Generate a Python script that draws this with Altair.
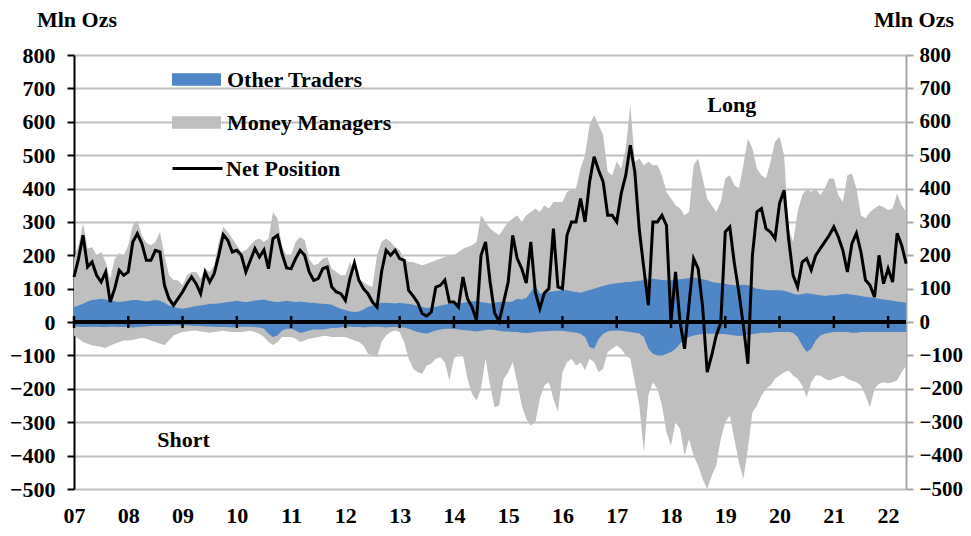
import altair as alt
import pandas as pd

FONT = "Liberation Serif"
BLUE = "#4F86C6"
GRAY = "#BFBFBF"

start_year = 2007
# monthly readings, Jan 2007 .. May 2022 (Mln Ozs)
net = (
    [135, 190, 260, 165, 180, 140, 120, 150, 60, 100, 155, 140]
    + [150, 240, 265, 235, 185, 185, 215, 210, 110, 70, 50, 70]
    + [90, 115, 135, 115, 85, 150, 120, 145, 200, 262, 245, 210]
    + [215, 200, 150, 185, 220, 195, 216, 160, 250, 260, 205, 162]
    + [160, 190, 215, 200, 150, 125, 130, 160, 165, 105, 90, 85]
    + [65, 130, 177, 125, 100, 85, 60, 45, 150, 215, 200, 215]
    + [190, 185, 95, 78, 58, 25, 18, 30, 105, 110, 126, 60]
    + [60, 45, 135, 70, 45, 5, 200, 240, 120, 27, 2, 60]
    + [120, 260, 190, 160, 117, 240, 90, 40, 87, 100, 280, 105]
    + [100, 260, 300, 300, 370, 300, 420, 495, 455, 420, 320, 320]
    + [300, 386, 440, 530, 450, 275, 160, 50, 300, 300, 320, 290]
    + [0, 150, 0, -80, 55, 190, 160, 45, -150, -100, -40, -3]
    + [270, 285, 177, 90, -10, -125, 200, 330, 340, 280, 270, 250]
    + [356, 395, 250, 140, 105, 180, 190, 156, 200, 220, 240, 260]
    + [285, 255, 215, 150, 235, 266, 210, 126, 110, 75, 200, 115]
    + [160, 120, 266, 230, 175]
)
long_all = (
    [190, 230, 296, 220, 225, 200, 210, 180, 130, 190, 206, 200]
    + [230, 290, 305, 260, 237, 230, 240, 270, 200, 140, 126, 125]
    + [110, 140, 150, 150, 130, 160, 150, 170, 240, 285, 270, 250]
    + [230, 210, 215, 230, 245, 250, 240, 250, 330, 310, 225, 200]
    + [200, 240, 255, 245, 190, 170, 175, 190, 195, 160, 150, 140]
    + [140, 180, 150, 130, 120, 110, 105, 200, 240, 250, 240, 225]
    + [215, 190, 180, 180, 175, 170, 175, 180, 185, 190, 195, 200]
    + [200, 210, 220, 225, 230, 240, 320, 300, 280, 270, 260, 280]
    + [300, 310, 320, 300, 320, 330, 340, 330, 350, 340, 360, 360]
    + [360, 390, 396, 400, 460, 500, 590, 620, 590, 560, 450, 440]
    + [480, 460, 520, 650, 480, 490, 470, 480, 470, 470, 440, 390]
    + [370, 350, 340, 320, 330, 470, 490, 430, 370, 350, 330, 360]
    + [430, 440, 410, 400, 470, 550, 520, 460, 440, 430, 480, 540]
    + [555, 500, 280, 240, 330, 380, 400, 390, 400, 380, 400, 430]
    + [430, 380, 360, 440, 445, 400, 320, 310, 330, 340, 350, 345]
    + [335, 340, 385, 350, 330]
)
long_other = (
    [45, 50, 55, 62, 66, 68, 70, 68, 66, 62, 60, 62]
    + [64, 66, 66, 64, 62, 64, 66, 64, 58, 50, 45, 42]
    + [40, 42, 45, 48, 50, 52, 55, 55, 56, 58, 60, 62]
    + [64, 62, 60, 62, 65, 66, 68, 64, 62, 60, 62, 64]
    + [62, 60, 62, 60, 58, 58, 56, 55, 54, 52, 45, 40]
    + [36, 32, 30, 32, 38, 45, 50, 55, 58, 58, 57, 56]
    + [58, 56, 55, 52, 48, 45, 42, 44, 46, 50, 52, 55]
    + [55, 56, 58, 60, 62, 63, 60, 58, 56, 58, 60, 62]
    + [60, 62, 70, 68, 72, 90, 110, 85, 88, 90, 92, 94]
    + [96, 95, 92, 90, 88, 92, 96, 100, 104, 108, 112, 115]
    + [116, 118, 120, 120, 122, 124, 126, 128, 130, 128, 126, 125]
    + [125, 126, 128, 130, 132, 134, 130, 128, 125, 120, 118, 116]
    + [115, 112, 110, 110, 112, 110, 105, 100, 98, 96, 95, 95]
    + [95, 94, 90, 85, 82, 84, 86, 85, 82, 80, 78, 80]
    + [80, 82, 84, 85, 82, 80, 78, 76, 74, 72, 70, 68]
    + [66, 64, 62, 60, 58]
)
short_other = (
    [-12, -14, -15, -15, -14, -14, -15, -15, -14, -14, -15, -15]
    + [-15, -16, -15, -14, -13, -12, -12, -12, -12, -11, -10, -10]
    + [-10, -10, -11, -12, -12, -13, -13, -14, -15, -15, -15, -16]
    + [-15, -14, -14, -14, -15, -16, -20, -35, -45, -40, -25, -20]
    + [-20, -25, -33, -30, -25, -22, -22, -22, -20, -18, -18, -16]
    + [-15, -14, -15, -15, -16, -15, -14, -14, -15, -16, -15, -15]
    + [-15, -16, -20, -25, -30, -33, -35, -30, -25, -22, -20, -20]
    + [-20, -22, -24, -25, -26, -28, -26, -24, -22, -24, -26, -28]
    + [-28, -30, -30, -32, -33, -32, -30, -28, -28, -27, -26, -26]
    + [-26, -28, -30, -32, -35, -45, -75, -80, -50, -35, -28, -26]
    + [-25, -26, -28, -30, -32, -34, -45, -80, -95, -100, -100, -95]
    + [-90, -80, -65, -50, -45, -40, -38, -36, -35, -35, -35, -36]
    + [-36, -38, -40, -42, -40, -38, -36, -34, -32, -32, -32, -30]
    + [-30, -30, -30, -32, -45, -70, -90, -80, -55, -40, -35, -32]
    + [-30, -30, -30, -30, -32, -32, -30, -30, -30, -30, -30, -30]
    + [-30, -30, -30, -30, -30]
)
short_all = (
    [-40, -50, -60, -65, -70, -72, -75, -78, -70, -65, -60, -55]
    + [-55, -54, -50, -48, -50, -55, -60, -65, -69, -55, -40, -35]
    + [-30, -28, -26, -25, -28, -30, -32, -30, -28, -26, -28, -30]
    + [-30, -30, -28, -26, -30, -35, -45, -60, -69, -60, -45, -45]
    + [-45, -50, -60, -55, -50, -48, -45, -42, -42, -45, -45, -45]
    + [-45, -50, -55, -60, -70, -95, -100, -105, -60, -40, -30, -25]
    + [-30, -60, -110, -140, -150, -155, -130, -125, -110, -105, -120, -175]
    + [-110, -95, -100, -170, -215, -235, -200, -110, -190, -255, -250, -170]
    + [-150, -120, -180, -250, -290, -310, -300, -230, -190, -180, -230, -270]
    + [-150, -120, -110, -130, -120, -144, -110, -120, -150, -140, -90, -80]
    + [-70, -80, -100, -110, -180, -250, -390, -220, -180, -200, -250, -330]
    + [-370, -300, -320, -400, -350, -400, -430, -470, -500, -460, -430, -350]
    + [-300, -280, -350, -420, -470, -380, -270, -250, -220, -200, -190, -170]
    + [-160, -150, -145, -160, -170, -190, -225, -180, -160, -160, -170, -175]
    + [-170, -165, -160, -170, -175, -180, -190, -220, -255, -200, -185, -180]
    + [-183, -180, -175, -150, -130]
)
years = list(range(2007, 2023))
y_ticks = list(range(-500, 801, 100))
notes = ["Long", "Short"]
note_t = [2019.12, 2009.02]
note_v = [650, -353]

n = len(net)
df = pd.DataFrame({
    "t": [start_year + i / 12 for i in range(n)],
    "net": net,
    "long_all": long_all,
    "long_other": long_other,
    "short_other": short_other,
    "short_all": short_all,
})
ydf = pd.DataFrame({"year": years, "zero": [0] * len(years)})
ndf = pd.DataFrame({"t": note_t, "v": note_v, "label": notes})

yscale = alt.Scale(domain=[-500, 800], nice=False, zero=False)
xscale = alt.Scale(domain=[2007, 2022.33], nice=False, zero=False)

xaxis = alt.Axis(values=years, labelExpr="substring(toString(datum.value), 2, 4)",
                 domain=False, ticks=False, grid=False, labelPadding=16,
                 labelFlush=False, labelOverlap=False, title=None)
left_axis = alt.Axis(orient="left", values=y_ticks, grid=True, gridColor="#C0C0C0",
                     gridWidth=2, domainColor="black", domainWidth=2,
                     tickColor="black", tickWidth=2, tickSize=7, labelPadding=12,
                     labelOverlap=False, title=None)
right_axis = alt.Axis(orient="right", values=y_ticks, grid=False, domainColor="#A6A6A6",
                      domainWidth=2, tickColor="#A6A6A6", tickWidth=2, tickSize=7,
                      labelPadding=6, labelFontSize=21, labelOverlap=False, title=None)

X = alt.X("t:Q", scale=xscale, axis=xaxis)

fill_scale = alt.Scale(domain=["Other Traders", "Money Managers"], range=[BLUE, GRAY])
fill_legend = alt.Legend(orient="none", legendX=98, legendY=0, title=None,
                         symbolType="M-1,-0.255H1V0.255H-1Z", symbolSize=2401,
                         symbolStrokeWidth=0, symbolOpacity=1, labelOffset=6,
                         rowPadding=7, padding=0, labelLimit=400)
stroke_legend = alt.Legend(orient="none", legendX=97, legendY=87, title=None,
                           symbolType="stroke", symbolSize=2500, symbolStrokeWidth=3,
                           labelOffset=2, padding=0, labelLimit=400)

gray = alt.Chart(df).transform_calculate(series="'Money Managers'").mark_area(
    opacity=1).encode(
    x=X,
    y=alt.Y("short_all:Q", scale=yscale, axis=left_axis),
    y2="long_all:Q",
    fill=alt.Fill("series:N", scale=fill_scale, legend=fill_legend),
)
blue = alt.Chart(df).transform_calculate(series="'Other Traders'").mark_area(
    opacity=1).encode(
    x=X,
    y=alt.Y("short_other:Q", scale=yscale, axis=left_axis),
    y2="long_other:Q",
    fill=alt.Fill("series:N", scale=fill_scale, legend=fill_legend),
)
zero_rule = alt.Chart(ydf).mark_rule(color="black", strokeWidth=2.5).encode(
    y=alt.Y("zero:Q", scale=yscale, axis=left_axis)
)
year_ticks = alt.Chart(ydf).mark_tick(orient="vertical", size=12, thickness=2.5,
                                      color="black", opacity=1).encode(
    x=alt.X("year:Q", scale=xscale, axis=xaxis),
    y=alt.Y("zero:Q", scale=yscale, axis=left_axis),
)
net_line = alt.Chart(df).transform_calculate(s2="'Net Position'").mark_line(
    strokeWidth=3).encode(
    x=X,
    y=alt.Y("net:Q", scale=yscale, axis=left_axis),
    stroke=alt.Stroke("s2:N", scale=alt.Scale(domain=["Net Position"], range=["black"]),
                      legend=stroke_legend),
)
note_text = alt.Chart(ndf).mark_text(font=FONT, fontSize=22, fontWeight="bold",
                                     color="black").encode(
    x=alt.X("t:Q", scale=xscale, axis=xaxis),
    y=alt.Y("v:Q", scale=yscale, axis=left_axis),
    text="label:N",
)
unit_df = pd.DataFrame({"u": ["Mln Ozs"]})
left_unit = alt.Chart(unit_df).mark_text(font=FONT, fontSize=22, fontWeight="bold",
                                         color="black").encode(
    x=alt.value(3), y=alt.value(-35), text="u:N")
right_unit = alt.Chart(unit_df).mark_text(font=FONT, fontSize=22, fontWeight="bold",
                                          color="black").encode(
    x=alt.value(840), y=alt.value(-35), text="u:N")

left = alt.layer(gray, blue, zero_rule, year_ticks, net_line, note_text,
                 left_unit, right_unit)
right = alt.Chart(df).mark_line(opacity=0).encode(
    x=X, y=alt.Y("net:Q", scale=yscale, axis=right_axis))

chart = alt.layer(left, right).resolve_scale(y="independent").properties(
    width=832, height=434,
    padding={"left": 66, "top": 47, "right": 57, "bottom": 40},
    autosize=alt.AutoSizeParams(type="none"),
).configure_view(strokeWidth=0).configure_axis(
    labelFont=FONT, labelFontSize=22, labelFontWeight="bold", labelColor="black"
).configure_legend(
    labelFont=FONT, labelFontSize=22, labelFontWeight="bold", labelColor="black"
)

chart.save("out.html", embed_options={"renderer": "svg", "actions": False})
